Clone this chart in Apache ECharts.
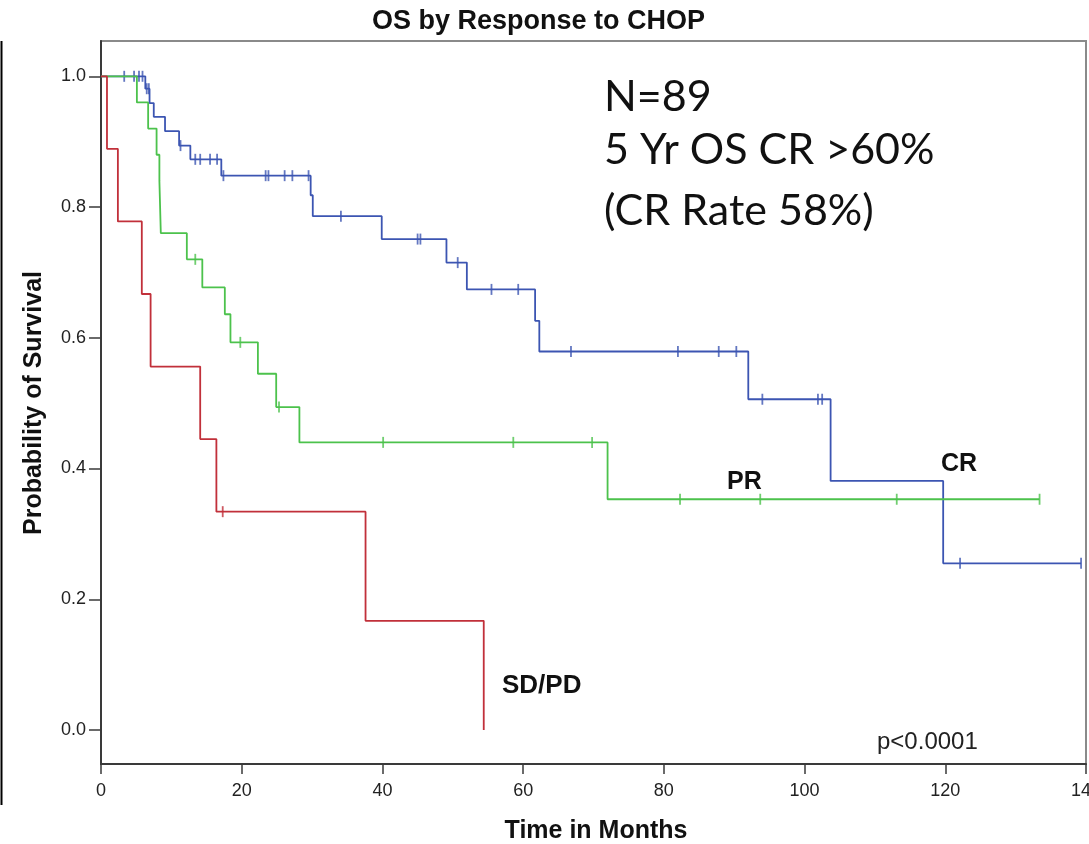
<!DOCTYPE html>
<html>
<head>
<meta charset="utf-8">
<title>OS by Response to CHOP</title>
<script src="https://cdn.jsdelivr.net/npm/echarts@6/dist/echarts.min.js"></script>
<style>
  html, body { margin: 0; padding: 0; background: #ffffff; }
  #chart { width: 1089px; height: 844px; }
</style>
</head>
<body>
<div id="chart"></div>
<script>
// Kaplan-Meier estimates: [month, survival probability] at each event
const crSteps = [
  [0, 1.0], [6.3, 0.981], [6.9, 0.959], [7.5, 0.938], [9.1, 0.916],
  [11.1, 0.894], [12.7, 0.873], [17.1, 0.848], [29.8, 0.818], [30.1, 0.786],
  [39.9, 0.751], [49.1, 0.715], [52.0, 0.674], [61.7, 0.626], [62.3, 0.579],
  [92.0, 0.506], [103.7, 0.381], [119.7, 0.255], [139.3, 0.255]
];
const crCensored = [
  3.3, 4.7, 5.4, 5.9, 6.5, 6.8, 11.3, 13.4, 14.1, 15.5, 16.5, 17.4,
  23.4, 23.8, 26.1, 27.2, 29.5, 34.1, 45.0, 45.4, 50.7, 55.5, 59.3,
  66.8, 82.0, 87.8, 90.3, 94.0, 101.9, 102.5, 122.1, 139.3
];

const prSteps = [
  [0, 1.0], [5.1, 0.96], [6.7, 0.92], [7.9, 0.88], [8.3, 0.84], [8.4, 0.80],
  [8.5, 0.76], [12.2, 0.72], [14.4, 0.677], [17.6, 0.636], [18.4, 0.593],
  [22.3, 0.545], [24.9, 0.494], [28.2, 0.44], [72.0, 0.353], [133.4, 0.353]
];
const prCensored = [13.4, 19.8, 25.3, 40.1, 58.6, 69.8, 82.3, 93.7, 113.1, 133.4];

const sdpdSteps = [
  [0, 1.0], [0.85, 0.889], [2.4, 0.778], [5.8, 0.667], [7.05, 0.556],
  [14.1, 0.445], [16.4, 0.334], [37.6, 0.167], [54.4, 0.0]
];
const sdpdCensored = [17.3];

const xTicks = [0, 20, 40, 60, 80, 100, 120, 140];
const yTicks = [0.0, 0.2, 0.4, 0.6, 0.8, 1.0];

const groupNames = ['CR', 'PR', 'SD/PD'];
const groupColors = ['#3c55b2', '#4cc24c', '#c1303a'];
const noteLines = ['N=89', '5 Yr OS CR >60%', '(CR Rate 58%)'];

// survival value of a step curve at time t
function survivalAt(steps, t) {
  let s = steps[0][1];
  for (const [time, v] of steps) {
    if (time <= t) s = v; else break;
  }
  return s;
}

const groups = [
  { steps: crSteps, censored: crCensored },
  { steps: prSteps, censored: prCensored },
  { steps: sdpdSteps, censored: sdpdCensored }
];

const series = [];
groups.forEach((g, i) => {
  series.push({
    name: groupNames[i],
    type: 'line',
    step: 'end',
    data: g.steps,
    showSymbol: false,
    symbol: 'none',
    z: 3 + i,
    lineStyle: { color: groupColors[i], width: 1.8 },
    animation: false
  });
  series.push({
    name: groupNames[i] + ' censored',
    type: 'scatter',
    data: g.censored.map(t => [t, survivalAt(g.steps, t)]),
    symbol: 'rect',
    symbolSize: [1.8, 11],
    z: 3 + i,
    itemStyle: { color: groupColors[i] },
    animation: false
  });
});

const FONT = '"Liberation Sans", Arial, sans-serif';

const chart = echarts.init(document.getElementById('chart'), null, { renderer: 'canvas' });
chart.setOption({
  backgroundColor: '#ffffff',
  animation: false,
  grid: {
    left: 101, right: 3, top: 41, bottom: 80,
    containLabel: false, outerBoundsMode: 'none',
    show: true, borderColor: '#8a8a8a', borderWidth: 2, backgroundColor: '#ffffff'
  },
  xAxis: {
    type: 'value',
    min: xTicks[0], max: xTicks[xTicks.length - 1], interval: 20,
    axisLine: { show: true, onZero: false, lineStyle: { color: '#3a3a3a', width: 2 } },
    axisTick: { show: true, length: 10, lineStyle: { color: '#3a3a3a', width: 1.5 } },
    axisLabel: { fontFamily: FONT, fontSize: 18, color: '#222', margin: 18, hideOverlap: false },
    splitLine: { show: false }
  },
  yAxis: {
    type: 'value',
    min: -0.052, max: 1.054,
    axisLine: { show: true, onZero: false, lineStyle: { color: '#3a3a3a', width: 2 } },
    axisTick: { show: true, length: 12, customValues: yTicks, lineStyle: { color: '#3a3a3a', width: 1.5 } },
    axisLabel: {
      fontFamily: FONT, fontSize: 18, color: '#222', margin: 15,
      customValues: yTicks,
      formatter: v => v.toFixed(1)
    },
    splitLine: { show: false }
  },
  series: series,
  graphic: [
    { type: 'line', shape: { x1: 1.5, y1: 41, x2: 1.5, y2: 805 }, style: { stroke: '#000', lineWidth: 2 } },
    { type: 'text', x: 372, y: 22, style: { text: 'OS by Response to CHOP', font: 'bold 27px ' + FONT, fill: '#111', verticalAlign: 'middle' } },
    { type: 'text', x: 596, y: 831, style: { text: 'Time in Months', font: 'bold 25px ' + FONT, fill: '#111', align: 'center', verticalAlign: 'middle' } },
    { type: 'text', x: 34, y: 403, rotation: Math.PI / 2, style: { text: 'Probability of Survival', font: 'bold 25px ' + FONT, fill: '#111', align: 'center', verticalAlign: 'middle' } },
    { type: 'text', x: 941, y: 464, style: { text: groupNames[0], font: 'bold 25px ' + FONT, fill: '#111', verticalAlign: 'middle' } },
    { type: 'text', x: 727, y: 482, style: { text: groupNames[1], font: 'bold 25px ' + FONT, fill: '#111', verticalAlign: 'middle' } },
    { type: 'text', x: 502, y: 686, style: { text: groupNames[2], font: 'bold 26px ' + FONT, fill: '#111', verticalAlign: 'middle' } },
    { type: 'text', x: 877, y: 742, style: { text: 'p<0.0001', font: '24px ' + FONT, fill: '#222', verticalAlign: 'middle' } },
    { type: 'text', x: 604, y: 97, style: { text: noteLines[0], font: '43px Lato, "Open Sans", sans-serif', fill: '#111', verticalAlign: 'middle' } },
    { type: 'text', x: 604, y: 150, style: { text: noteLines[1], font: '43px Lato, "Open Sans", sans-serif', fill: '#111', verticalAlign: 'middle' } },
    { type: 'text', x: 604, y: 211, style: { text: noteLines[2], font: '43px Lato, "Open Sans", sans-serif', fill: '#111', verticalAlign: 'middle' } }
  ]
});
</script>
</body>
</html>
